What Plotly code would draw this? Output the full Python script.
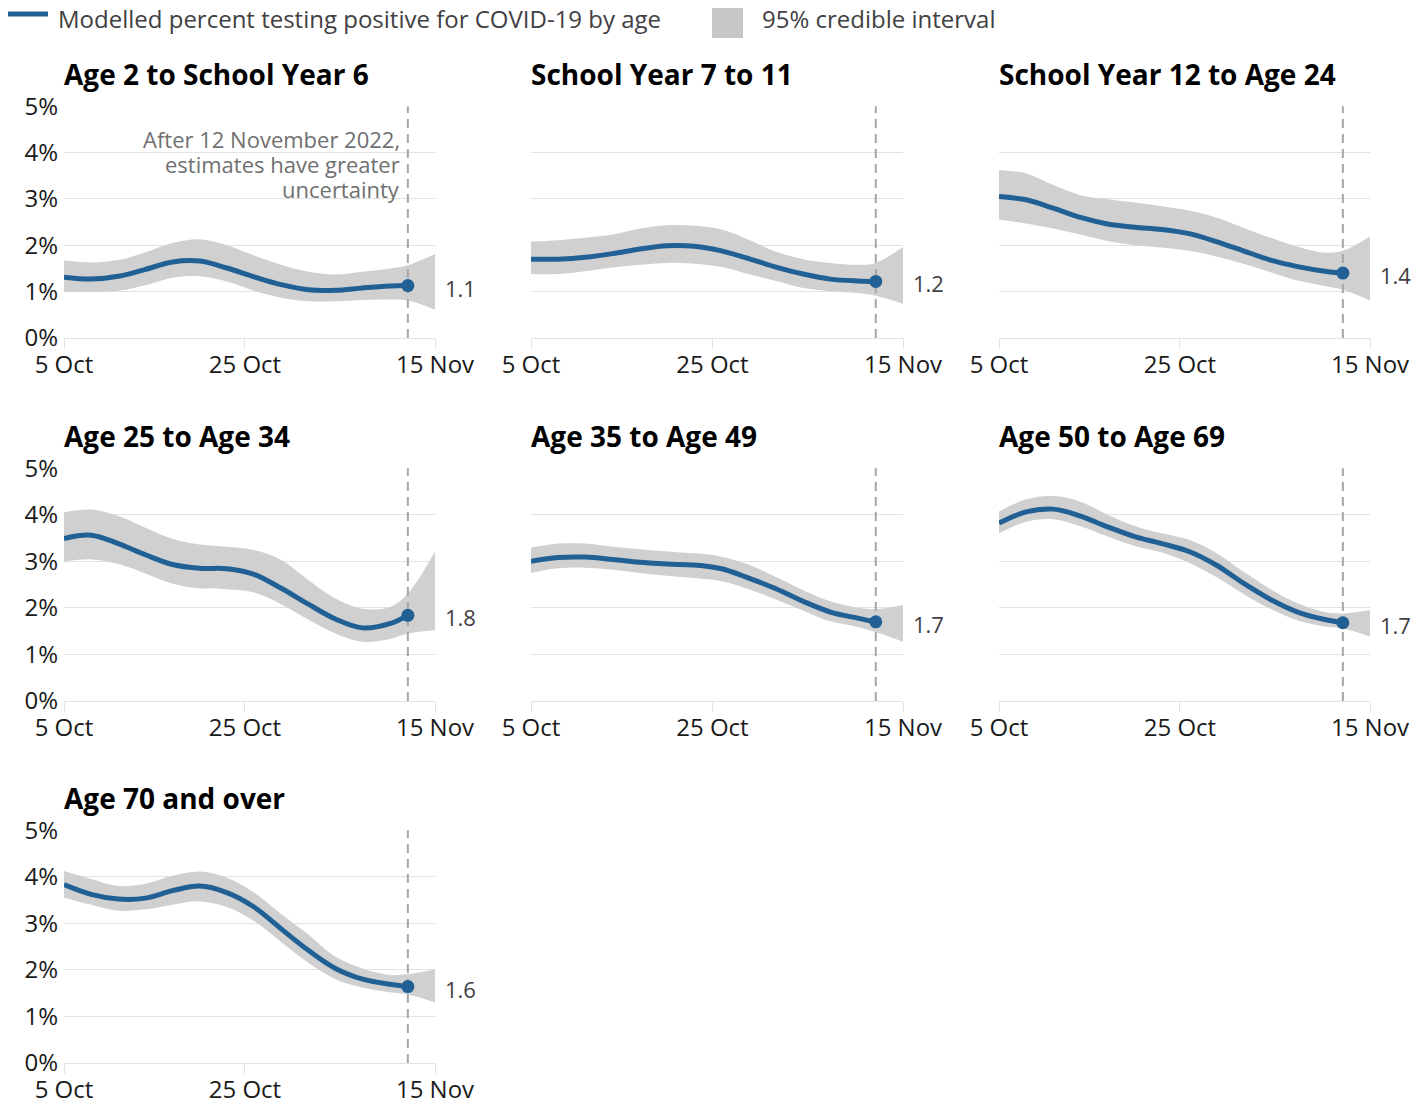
import plotly.graph_objects as go

# Sample dates (2022); the modelled estimate runs to 12 Nov, the interval to 15 Nov
DATES = ["2022-10-05", "2022-10-08", "2022-10-11", "2022-10-14", "2022-10-17",
         "2022-10-20", "2022-10-23", "2022-10-26", "2022-10-29", "2022-11-01",
         "2022-11-04", "2022-11-07", "2022-11-10", "2022-11-12", "2022-11-15"]
CUTOFF_DATE = "2022-11-12"

X_TICK_VALS = ["2022-10-05", "2022-10-25", "2022-11-15"]
X_TICK_TEXT = ["5 Oct", "25 Oct", "15 Nov"]
Y_TICK_VALS = [0, 1, 2, 3, 4, 5]
Y_TICK_TEXT = ["0%", "1%", "2%", "3%", "4%", "5%"]

GROUPS = ["Age 2 to School Year 6", "School Year 7 to 11", "School Year 12 to Age 24",
          "Age 25 to Age 34", "Age 35 to Age 49", "Age 50 to Age 69", "Age 70 and over"]

CUTOFF_NOTE = ["After 12 November 2022,", "estimates have greater", "uncertainty"]

# Modelled percent testing positive (to 12 Nov)
est_age2_sy6 = [1.31, 1.27, 1.33, 1.48, 1.64, 1.66, 1.51, 1.32, 1.15, 1.04, 1.03, 1.08, 1.12, 1.13]
est_sy7_11 = [1.70, 1.70, 1.74, 1.82, 1.92, 1.99, 1.98, 1.88, 1.71, 1.53, 1.38, 1.27, 1.23, 1.22]
est_sy12_24 = [3.05, 2.98, 2.80, 2.60, 2.46, 2.39, 2.34, 2.25, 2.08, 1.88, 1.68, 1.54, 1.44, 1.40]
est_25_34 = [3.49, 3.56, 3.38, 3.14, 2.93, 2.85, 2.84, 2.72, 2.42, 2.08, 1.76, 1.57, 1.66, 1.84]
est_35_49 = [3.00, 3.08, 3.09, 3.04, 2.98, 2.94, 2.92, 2.84, 2.64, 2.41, 2.14, 1.91, 1.78, 1.70]
est_50_69 = [3.82, 4.06, 4.12, 3.97, 3.74, 3.53, 3.38, 3.21, 2.92, 2.53, 2.18, 1.91, 1.75, 1.68]
est_70_plus = [3.83, 3.62, 3.52, 3.54, 3.70, 3.80, 3.66, 3.35, 2.88, 2.42, 2.03, 1.80, 1.69, 1.64]

# 95% credible interval, lower bound (to 15 Nov)
low_age2_sy6 = [1.00, 0.99, 1.02, 1.14, 1.30, 1.33, 1.22, 1.02, 0.87, 0.79, 0.79, 0.82, 0.83, 0.81, 0.61]
low_sy7_11 = [1.38, 1.38, 1.44, 1.52, 1.58, 1.62, 1.60, 1.53, 1.38, 1.23, 1.08, 1.01, 0.97, 0.91, 0.74]
low_sy12_24 = [2.55, 2.47, 2.36, 2.23, 2.09, 2.00, 1.95, 1.88, 1.76, 1.60, 1.42, 1.24, 1.12, 1.04, 0.81]
low_25_34 = [2.99, 3.04, 2.94, 2.74, 2.52, 2.42, 2.40, 2.33, 2.08, 1.75, 1.45, 1.27, 1.33, 1.45, 1.52]
low_35_49 = [2.75, 2.85, 2.86, 2.82, 2.75, 2.69, 2.64, 2.57, 2.40, 2.18, 1.94, 1.71, 1.59, 1.48, 1.27]
low_50_69 = [3.60, 3.85, 3.90, 3.75, 3.53, 3.33, 3.19, 2.97, 2.66, 2.30, 1.98, 1.73, 1.60, 1.56, 1.38]
low_70_plus = [3.55, 3.40, 3.27, 3.30, 3.40, 3.47, 3.35, 3.05, 2.60, 2.15, 1.80, 1.62, 1.52, 1.47, 1.30]

# 95% credible interval, upper bound (to 15 Nov)
up_age2_sy6 = [1.67, 1.63, 1.68, 1.85, 2.05, 2.13, 2.00, 1.78, 1.58, 1.43, 1.37, 1.43, 1.50, 1.57, 1.81]
up_sy7_11 = [2.08, 2.11, 2.16, 2.23, 2.36, 2.43, 2.42, 2.34, 2.12, 1.86, 1.70, 1.62, 1.58, 1.62, 1.96]
up_sy12_24 = [3.62, 3.55, 3.30, 3.08, 2.99, 2.92, 2.84, 2.75, 2.60, 2.38, 2.16, 1.97, 1.84, 1.88, 2.19]
up_25_34 = [4.05, 4.11, 3.97, 3.72, 3.48, 3.36, 3.31, 3.24, 3.03, 2.60, 2.20, 1.98, 2.02, 2.31, 3.21]
up_35_49 = [3.29, 3.38, 3.38, 3.31, 3.26, 3.21, 3.17, 3.10, 2.93, 2.66, 2.38, 2.14, 2.00, 1.97, 2.06]
up_50_69 = [4.07, 4.33, 4.40, 4.28, 4.00, 3.76, 3.60, 3.46, 3.18, 2.78, 2.40, 2.10, 1.91, 1.88, 1.95]
up_70_plus = [4.12, 3.95, 3.80, 3.85, 4.02, 4.11, 3.98, 3.66, 3.20, 2.76, 2.28, 2.03, 1.89, 1.91, 2.01]

ESTIMATES = [est_age2_sy6, est_sy7_11, est_sy12_24, est_25_34, est_35_49, est_50_69, est_70_plus]
LOWERS = [low_age2_sy6, low_sy7_11, low_sy12_24, low_25_34, low_35_49, low_50_69, low_70_plus]
UPPERS = [up_age2_sy6, up_sy7_11, up_sy12_24, up_25_34, up_35_49, up_50_69, up_70_plus]

# Styling
W, H = 1427, 1099
FONT = "Open Sans"
BLUE = "#206095"
BAND = "#d0d0d0"
GRID = "#e2e2e2"
TEXT = "#1a1a1a"
SOFT_TEXT = "#414042"

COL_PX = [(64, 435), (531, 903), (999, 1370)]
ROW_PX = [(106, 338), (468, 701), (830, 1063)]
CELLS = [(0, 0), (1, 0), (2, 0), (0, 1), (1, 1), (2, 1), (0, 2)]


def px_x(p):
    return p / W


def px_y(p):
    return 1 - p / H


fig = go.Figure()
annotations = []
shapes = []
layout_axes = {}

for i, (name, est, lo, up) in enumerate(zip(GROUPS, ESTIMATES, LOWERS, UPPERS)):
    n = i + 1
    xa = "x" if n == 1 else f"x{n}"
    ya = "y" if n == 1 else f"y{n}"
    col, row = CELLS[i]
    (x0, x1), (ytop, ybot) = COL_PX[col], ROW_PX[row]

    # credible interval band
    fig.add_trace(go.Scatter(x=DATES, y=up, xaxis=xa, yaxis=ya, mode="lines",
                             line=dict(width=0, shape="spline", color=BAND),
                             hoverinfo="skip", showlegend=False))
    fig.add_trace(go.Scatter(x=DATES, y=lo, xaxis=xa, yaxis=ya, mode="lines",
                             line=dict(width=0, shape="spline", color=BAND),
                             fill="tonexty", fillcolor=BAND,
                             hoverinfo="skip", showlegend=False))
    # cut-off marker for the later, less certain estimates
    fig.add_trace(go.Scatter(x=[CUTOFF_DATE, CUTOFF_DATE],
                             y=[Y_TICK_VALS[0], Y_TICK_VALS[-1]],
                             xaxis=xa, yaxis=ya, mode="lines",
                             line=dict(color="#a6a6a6", width=2, dash="9px,6px"),
                             hoverinfo="skip", showlegend=False))
    # modelled estimate and latest point
    line_dates = DATES[:len(est)]
    fig.add_trace(go.Scatter(x=line_dates, y=est, xaxis=xa, yaxis=ya, mode="lines",
                             line=dict(width=5, shape="spline", color=BLUE),
                             showlegend=False))
    fig.add_trace(go.Scatter(x=[line_dates[-1]], y=[est[-1]], xaxis=xa, yaxis=ya,
                             mode="markers", marker=dict(size=13, color=BLUE),
                             showlegend=False))

    suffix = "" if n == 1 else str(n)
    layout_axes[f"xaxis{suffix}"] = dict(
        domain=[px_x(x0), px_x(x1)], anchor=ya, type="date", automargin=False,
        range=[DATES[0], DATES[-1]], tickmode="array",
        tickvals=X_TICK_VALS, ticktext=X_TICK_TEXT,
        showgrid=False, zeroline=False, showline=True, linecolor=GRID, linewidth=1,
        ticks="outside", ticklen=10, tickcolor=GRID, tickwidth=1, ticklabelstandoff=-5,
        tickfont=dict(family=FONT, size=24, color=TEXT), fixedrange=True)
    layout_axes[f"yaxis{suffix}"] = dict(
        domain=[px_y(ybot), px_y(ytop)], anchor=xa, range=[0, 5.003], automargin=False,
        tickmode="array", tickvals=Y_TICK_VALS, ticktext=Y_TICK_TEXT,
        showticklabels=(col == 0), ticklabelstandoff=5,
        showgrid=True, gridcolor=GRID, gridwidth=1, zeroline=False, showline=False,
        ticks="", tickfont=dict(family=FONT, size=24, color=TEXT), fixedrange=True)

    # panel title
    annotations.append(dict(text=f"<b>{name}</b>", xref="paper", yref="paper",
                            x=px_x(x0), y=px_y(ytop - 32), xanchor="left", yanchor="middle",
                            xshift=-2, showarrow=False,
                            font=dict(family=FONT, size=28, color="#000000")))
    # latest value
    annotations.append(dict(text=f"{est[-1]:.1f}", xref=xa, yref=ya,
                            x=DATES[-1], y=est[-1], xanchor="left", yanchor="middle",
                            xshift=8, yshift=-2, showarrow=False,
                            font=dict(family=FONT, size=22, color=SOFT_TEXT)))

# note beside the cut-off line, first panel only (one annotation per line for tight leading)
for k, (line_text, y_px) in enumerate(zip(CUTOFF_NOTE, [139, 164, 188.5])):
    annotations.append(dict(text=line_text, xref="x", yref="paper",
                            x=CUTOFF_DATE, y=px_y(y_px), xanchor="right", yanchor="middle",
                            xshift=-6, showarrow=False,
                            font=dict(family=FONT, size=22, color="#707070")))

# legend
shapes.append(dict(type="line", xref="paper", yref="paper",
                   x0=px_x(8), x1=px_x(48), y0=px_y(14), y1=px_y(14),
                   line=dict(color=BLUE, width=5)))
annotations.append(dict(text="Modelled percent testing positive for COVID-19 by age",
                        xref="paper", yref="paper", x=px_x(56), y=px_y(19),
                        xanchor="left", yanchor="middle", showarrow=False,
                        font=dict(family=FONT, size=24, color=SOFT_TEXT)))
shapes.append(dict(type="rect", xref="paper", yref="paper",
                   x0=px_x(712), x1=px_x(743), y0=px_y(38), y1=px_y(8),
                   fillcolor="#c6c6c6", line=dict(width=0)))
annotations.append(dict(text="95% credible interval", xref="paper", yref="paper",
                        x=px_x(760), y=px_y(19), xanchor="left", yanchor="middle",
                        showarrow=False, font=dict(family=FONT, size=24, color=SOFT_TEXT)))

fig.update_layout(width=W, height=H, margin=dict(l=0, r=0, t=0, b=0, autoexpand=False),
                  paper_bgcolor="white", plot_bgcolor="white",
                  showlegend=False, annotations=annotations, shapes=shapes,
                  font=dict(family=FONT), **layout_axes)

fig.write_html("out.html")
